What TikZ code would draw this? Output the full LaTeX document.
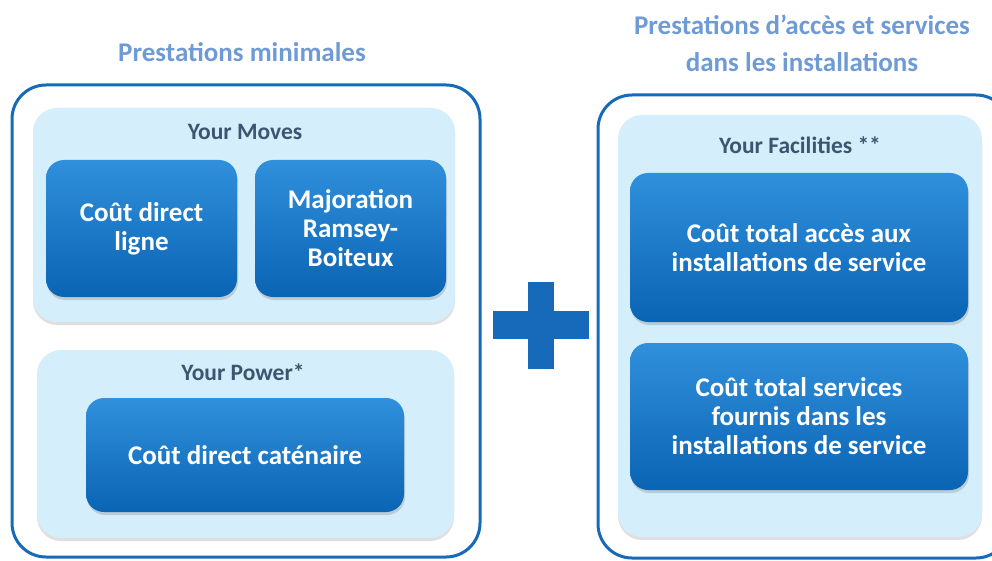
\documentclass[tikz,border=0pt]{standalone}
\usepackage{fontspec}
\setmainfont{Carlito}
\usepackage{tikz}
\definecolor{FrameBlue}{HTML}{1769BA}
\definecolor{PanelBlue}{HTML}{D4EFFB}
\definecolor{BoxTop}{HTML}{3090DC}
\definecolor{BoxMid}{HTML}{1174C8}
\definecolor{BoxBottom}{HTML}{0A64B4}
\definecolor{TitleBlue}{HTML}{6E9AD6}
\definecolor{LabelGrey}{HTML}{3C5570}
\usetikzlibrary{shadows,positioning}

\begin{document}
\begin{tikzpicture}[x=1pt, y=-1pt,
    frame/.style={draw=FrameBlue, line width=3pt, rounded corners=34pt, fill=white},
    panel/.style={fill=PanelBlue, rounded corners=24pt, drop shadow={shadow xshift=0pt, shadow yshift=-3pt, opacity=0.25}},
    costbox/.style={top color=BoxTop, middle color=BoxMid, bottom color=BoxBottom, rounded corners=18pt, text=white, align=center,
        font=\bfseries\fontsize{27}{29}\selectfont, drop shadow={shadow xshift=1pt, shadow yshift=-3pt, opacity=0.3}},
    title/.style={text=TitleBlue, font=\bfseries\fontsize{27}{37}\selectfont, align=center},
    panellabel/.style={text=LabelGrey, font=\bfseries\fontsize{23.5}{26}\selectfont}]
\useasboundingbox (0,0) rectangle (992,561);

%draw the two outer frames
\node[frame, minimum width=468pt, minimum height=472pt] (left) at (246,321){};
\node[frame, minimum width=412pt, minimum height=463pt] (right) at (804,326.5){};

%titles above the frames
\node[title] (tleft) at (242,52){Prestations minimales};
\node[title] (tright) at (802,43){Prestations d’accès et services\\dans les installations};

%the light blue panels
\node[panel, minimum width=422pt, minimum height=214pt] (moves) at (244,215){};
\node[panel, minimum width=417pt, minimum height=188pt] (power) at (245.5,444){};
\node[panel, minimum width=364pt, minimum height=422pt] (facilities) at (800,326){};

\node[panellabel] (lmoves) at (245,132){Your Moves};
\node[panellabel] (lpower) at (243,372){Your Power*};
\node[panellabel] (lfacilities) at (800,145){Your Facilities **};

%the cost boxes
\foreach \x/\t [count=\c] in {141.5/{Coût direct\\ligne}, 350.5/{Majoration\\Ramsey-\\Boiteux}}{
    \node[costbox, minimum width=191pt, minimum height=137pt] (m\c) at (\x,228.5){\t};
}
\node[costbox, minimum width=318pt, minimum height=114pt] (catenaire) at (245,455){Coût direct caténaire};
\node[costbox, minimum width=338pt, minimum height=149pt] (acces) at (799,247.5){Coût total accès aux\\installations de service};
\node[costbox, minimum width=338pt, minimum height=147pt] (services) at (799,416.5){Coût total services\\fournis dans les\\installations de service};

%draw the plus sign
\fill[FrameBlue] (493,311) rectangle (589,339);
\fill[FrameBlue] (528,282) rectangle (554,369);
\end{tikzpicture}
\end{document}
